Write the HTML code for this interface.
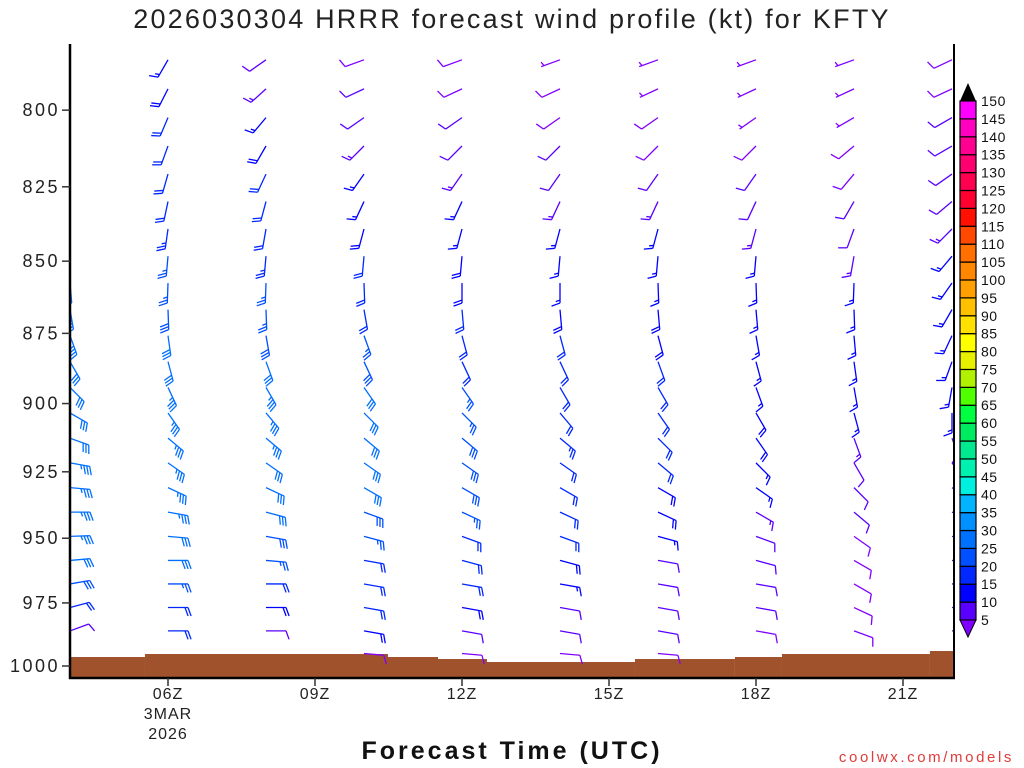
<!DOCTYPE html>
<html><head><meta charset="utf-8">
<style>
html,body{margin:0;padding:0;background:#fff;}
svg{display:block;font-family:"Liberation Sans",sans-serif;}
</style></head>
<body>
<svg id="chart" width="1024" height="768" viewBox="0 0 1024 768" xmlns="http://www.w3.org/2000/svg">
<defs><clipPath id="plotclip"><rect x="70" y="44" width="884" height="634"/></clipPath></defs>
<text x="512" y="28" text-anchor="middle" font-size="27" fill="#222" letter-spacing="2.2">2026030304 HRRR forecast wind profile (kt) for KFTY</text>
<g id="ground"></g>
<g id="barbs" clip-path="url(#plotclip)"></g>
<g id="axes"></g>
<g id="cbar"></g>
<text x="512" y="759" text-anchor="middle" font-size="25" font-weight="bold" fill="#111" letter-spacing="3">Forecast Time (UTC)</text>
<text x="1014" y="762" text-anchor="end" font-size="15" fill="#e03c3c" letter-spacing="2.6">coolwx.com/models</text>
</svg>
<script>
const NS="http://www.w3.org/2000/svg";
// Data
const hours=[4,6,8,10,12,14,16,18,20,22];
const levelsHpa=[995,986,976.8,967.6,958.5,949.3,940.1,930.9,921.7,912.6,903.4,894.2,885,875.8,866.7,857.5,848.3,839.1,829.9,820.8,811.6,802.4,793.2,784];
const dir04=[null,70,75,80,85,88,90,95,100,110,120,135,150,160,170,175,180,185,190,195,200,205,210,215];
const spd04=[null,10,20,28,32,33,33,33,33,32,32,32,32,33,33,33,32,30,30,28,27,26,25,25];
const dir06=[null,90,90,90,90,95,100,115,125,130,145,155,165,172,178,182,185,188,192,196,200,203,207,210];
const spd06=[null,20,22,27,30,32,33,33,34,34,33,33,32,30,28,26,25,24,22,22,20,20,18,17];
const dir08=[null,90,90,90,95,100,105,115,125,130,140,150,160,170,178,182,185,190,195,205,210,220,228,235];
const spd08=[null,12,18,20,25,28,30,30,32,33,33,33,30,28,27,25,23,22,20,20,18,17,13,12];
const dir10=[95,100,100,100,100,105,110,120,125,130,135,145,155,160,170,178,185,195,205,215,225,235,245,250];
const spd10=[8,18,20,22,22,25,28,30,32,32,32,30,28,25,22,20,20,18,17,15,13,12,10,9];
const dir12=[95,100,100,100,105,110,115,120,125,130,135,145,155,165,175,180,185,195,205,215,225,235,245,250];
const spd12=[8,10,18,20,20,22,25,28,28,28,27,25,22,20,20,18,18,17,15,13,12,10,9,8];
const dir14=[95,100,100,100,105,110,115,120,125,130,140,150,155,165,175,180,185,195,205,215,225,235,245,250];
const spd14=[8,10,12,15,18,20,22,22,22,23,22,20,20,20,18,17,17,15,13,12,10,9,8,7];
const dir16=[95,100,100,100,100,105,115,120,130,135,145,150,160,165,175,178,185,195,205,215,225,235,245,250];
const spd16=[8,10,12,12,12,15,18,18,20,20,20,20,20,18,18,17,17,15,13,10,9,8,7,7];
const dir18=[null,100,100,100,105,110,120,125,135,145,150,160,165,170,175,178,185,195,205,215,225,235,245,250];
const spd18=[null,8,10,10,10,12,13,15,17,18,18,17,17,17,17,15,15,13,12,10,8,7,7,6];
const dir20=[null,110,115,120,120,125,130,135,150,160,165,170,172,175,178,182,190,200,210,220,230,240,245,250];
const spd20=[null,8,8,9,9,9,10,10,12,13,15,15,17,17,17,15,13,12,10,9,8,7,7,6];
const dir22=[null,90,90,90,95,100,110,120,140,160,180,190,200,205,210,215,220,225,230,235,240,240,245,245];
const spd22=[null,10,10,12,12,12,13,13,13,13,15,15,15,15,17,17,15,13,12,12,10,10,9,9];
const dirs=[dir04,dir06,dir08,dir10,dir12,dir14,dir16,dir18,dir20,dir22];
const spds=[spd04,spd06,spd08,spd10,spd12,spd14,spd16,spd18,spd20,spd22];
const groundHours=[4.0,5.53,10.49,11.51,12.51,15.53,17.57,18.53,21.55,22.05];
const groundHpa=[996.4,995.2,996.4,997.2,998.4,997.2,996.4,995.2,994.0];
const yTicks=[800,825,850,875,900,925,950,975,1000];
const xTickHours=[6,9,12,15,18,21];
const xTickLabels=["06Z","09Z","12Z","15Z","18Z","21Z"];
const cbarValues=[5,10,15,20,25,30,35,40,45,50,55,60,65,70,75,80,85,90,95,100,105,110,115,120,125,130,135,140,145,150];
const cbarColors=["#8000ff","#5a00ff","#0000ff","#0028ff","#0050ff","#0070ff","#0090ff","#00b4ff","#00f0e0","#00f0b0","#00e890","#00ec60","#00ff40","#50ff00","#b0f000","#e8f000","#ffff00","#ffe000","#ffc000","#ffa000","#ff8800","#ff7000","#ff4800","#ff1000","#ff0030","#ff0050","#ff0070","#ff0090","#ff00c0","#ff00ff"];

// Axis functions
function xOf(h){return 168+ (h-6)*49;}
function yOf(p){return 666-2491*Math.log(1000/p);}
function colorOf(s){let i=Math.floor(s/5)-1; if(i<0)i=0; if(i>=cbarColors.length)i=cbarColors.length-1; return cbarColors[i];}

const barbG=document.getElementById('barbs');
function line(g,x1,y1,x2,y2,c,w){const l=document.createElementNS(NS,'line');l.setAttribute('x1',x1);l.setAttribute('y1',y1);l.setAttribute('x2',x2);l.setAttribute('y2',y2);l.setAttribute('stroke',c);l.setAttribute('stroke-width',w||1.3);g.appendChild(l);return l;}

// ground
const gg=document.getElementById('ground');
for(let i=0;i<groundHpa.length;i++){
  const r=document.createElementNS(NS,'rect');
  const x1=Math.max(70,xOf(groundHours[i])), x2=Math.min(954,xOf(groundHours[i+1]));
  const yt=yOf(groundHpa[i]);
  r.setAttribute('x',x1);r.setAttribute('y',yt);r.setAttribute('width',x2-x1);r.setAttribute('height',678-yt);
  r.setAttribute('fill','#a0522d');
  
  
  gg.appendChild(r);
}

// barbs
for(let c=0;c<hours.length;c++){
  for(let k=0;k<levelsHpa.length;k++){
    const d=dirs[c][k], s=spds[c][k];
    if(d===null||s===null)continue;
    const x0=xOf(hours[c]), y0=yOf(levelsHpa[k]);
    const a=d*Math.PI/180, ux=Math.sin(a), uy=-Math.cos(a);
    const L=20, col=colorOf(s);
    const g=document.createElementNS(NS,'g');
    
    
    line(g,x0,y0,x0+ux*L,y0+uy*L,col);
    const fa=Math.atan2(uy,ux)+70*Math.PI/180, fx=Math.cos(fa), fy=Math.sin(fa);
    let rem=Math.round(s/5)*5, pos=L;
    while(rem>=10){line(g,x0+ux*pos,y0+uy*pos,x0+ux*pos+fx*9,y0+uy*pos+fy*9,col);pos-=3;rem-=10;}
    if(rem>=5){ if(pos===L)pos-=3; line(g,x0+ux*pos,y0+uy*pos,x0+ux*pos+fx*4.5,y0+uy*pos+fy*4.5,col);}
    barbG.appendChild(g);
  }
}

// axes
const ax=document.getElementById('axes');
line(ax,70,44,70,679,'#000',2.5);
line(ax,69,678,955,678,'#000',2.5);
line(ax,954,44,954,679,'#000',2);
for(const p of yTicks){
  const y=yOf(p);
  line(ax,62,y,70,y,'#333',1.5);
  const t=document.createElementNS(NS,'text');
  t.setAttribute('x',60);t.setAttribute('y',y+6);t.setAttribute('text-anchor','end');t.setAttribute('font-size','18');t.setAttribute('fill','#222');t.setAttribute('letter-spacing','2.5');
  
  
  t.textContent=p;ax.appendChild(t);
}
for(let i=0;i<xTickHours.length;i++){
  const x=xOf(xTickHours[i]);
  line(ax,x,678,x,686,'#333',1.5);
  const t=document.createElementNS(NS,'text');
  t.setAttribute('x',x);t.setAttribute('y',699);t.setAttribute('text-anchor','middle');t.setAttribute('font-size','16');t.setAttribute('fill','#222');t.setAttribute('letter-spacing','1');
  
  
  t.textContent=xTickLabels[i];ax.appendChild(t);
}
const dl=[["3MAR",719],["2026",739]];
for(const [s,y] of dl){const t=document.createElementNS(NS,'text');t.setAttribute('x',xOf(6));t.setAttribute('y',y);t.setAttribute('text-anchor','middle');t.setAttribute('font-size','16');t.setAttribute('fill','#222');t.setAttribute('letter-spacing','1');


t.textContent=s;ax.appendChild(t);}

// colorbar
const cb=document.getElementById('cbar');
const cTop=101,cBot=620,h=(cBot-cTop)/(cbarValues.length-1);
for(let i=1;i<cbarValues.length;i++){
  const r=document.createElementNS(NS,'rect');
  const y=cBot-i*h;
  r.setAttribute('x',960);r.setAttribute('y',y);r.setAttribute('width',16);r.setAttribute('height',h);
  r.setAttribute('fill',cbarColors[i]);r.setAttribute('stroke','#000');r.setAttribute('stroke-width','1.2');
  
  
  cb.appendChild(r);
}
const tri1=document.createElementNS(NS,'polygon');tri1.setAttribute('points',`960,${cTop} 976,${cTop} 968,${cTop-18}`);tri1.setAttribute('fill','#000');


cb.appendChild(tri1);
const tri2=document.createElementNS(NS,'polygon');tri2.setAttribute('points',`960,${cBot} 976,${cBot} 968,${cBot+17}`);tri2.setAttribute('fill',cbarColors[0]);tri2.setAttribute('stroke','#000');


cb.appendChild(tri2);
for(let i=0;i<cbarValues.length;i++){
  const t=document.createElementNS(NS,'text');
  t.setAttribute('x',981);t.setAttribute('y',cBot-i*h+5);t.setAttribute('font-size','14');t.setAttribute('fill','#111');t.setAttribute('letter-spacing','0.5');
  
  
  t.textContent=cbarValues[i];cb.appendChild(t);
}
</script>
</body></html>
